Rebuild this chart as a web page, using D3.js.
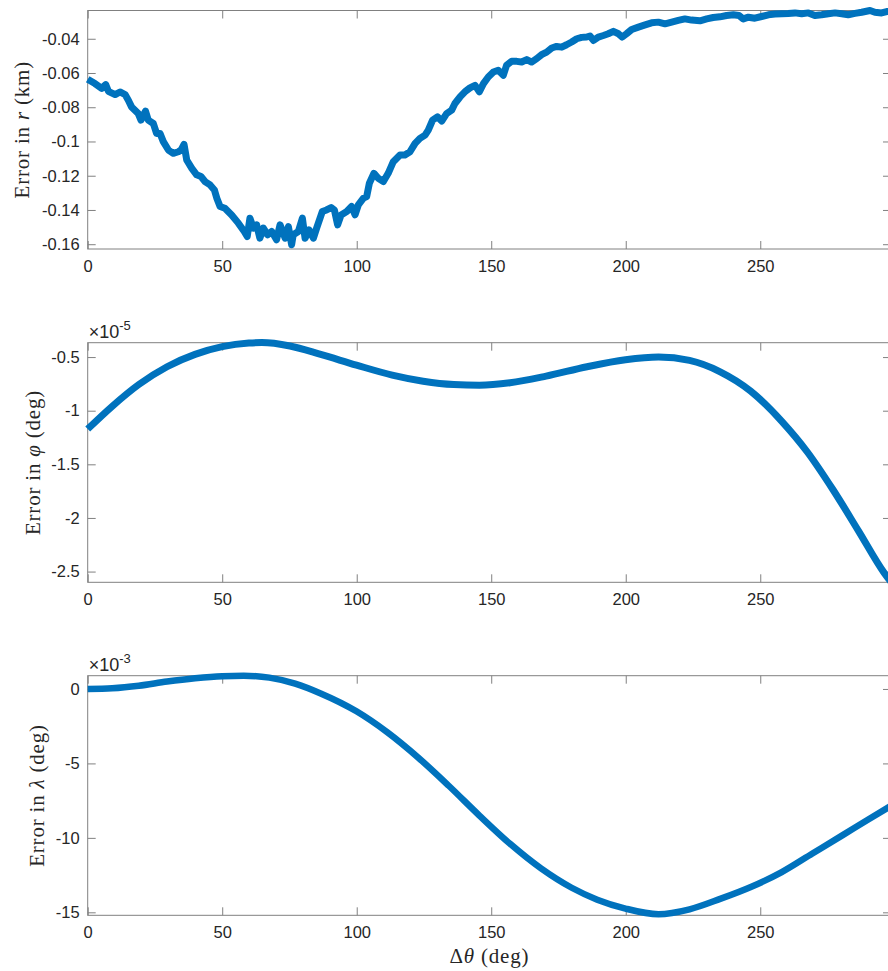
<!DOCTYPE html>
<html>
<head>
<meta charset="utf-8">
<script src="https://cdn.jsdelivr.net/npm/d3@7"></script>
<style>
  body { margin: 0; background: #fff; }
  svg { display: block; background: #fff; }
  .tick text { font-family: "Liberation Sans", Arial, sans-serif; font-size: 16.5px; fill: #262626; }
  .tick line { stroke: #808080; stroke-width: 1; }
  .lbl { font-family: "Liberation Serif", "Times New Roman", serif; font-size: 21px; fill: #262626; letter-spacing: 0.8px; }
  .expo { font-family: "Liberation Sans", Arial, sans-serif; font-size: 18px; fill: #262626; }
</style>
</head>
<body>
<svg id="chart" width="888" height="971"></svg>
<script>
// Shared x axis: along-track angle (deg)
const thetaTicks = [0, 50, 100, 150, 200, 250];

// Radial error (km), sampled along the arc
const thetaR = [0,2.7,5.2,6.7,7.7,10.2,12,13.9,15.1,16.3,18.8,19.8,21.5,22.5,24.4,25.6,26.9,28.1,30,31.8,33.7,34.7,35.8,36.8,38.7,40.5,42.1,43.6,45.5,47.1,48,49.2,51,53.5,56,58.2,59.3,60.3,61.6,62.8,64,65.3,66.9,68.4,70.2,71.5,73.4,74.6,75.8,76.4,78.3,79.8,80.8,82.3,83.9,85.1,87.2,88.8,90.5,91.7,92.9,94.2,96.3,98.1,99.4,100.6,102.5,103.7,104.7,106.4,108,109.9,111.7,113.6,116.1,117.9,119.8,121.7,123.5,125.4,126.6,128.2,130,131.6,133.4,135.3,136.5,138.4,140.2,142.1,144,145.6,147.1,148.9,150.8,152.6,154.5,155.7,157.6,159.5,161.3,163.2,165,166.9,168.7,170.6,172.5,174.3,176.2,178,179.9,181.8,183.6,185.5,186.7,188,189.8,191.7,193.5,195.4,197.3,198.7,200.3,202.2,204.7,207.2,209.6,212.1,214.6,217.1,219.5,222,224.5,227.6,230.1,232.5,235,237.5,240,242.1,243.7,245.6,248,250.5,253,255.5,258,260.4,262.9,265.4,267.9,270.3,272.8,275.3,277.8,280.3,282.7,285.2,287.7,290.8,292.6,295.1,297,298.6];
const errR = [-0.0637,-0.0662,-0.069,-0.0668,-0.0707,-0.0726,-0.0711,-0.0726,-0.0759,-0.0798,-0.0837,-0.0875,-0.0823,-0.0875,-0.0895,-0.0953,-0.0953,-0.1001,-0.105,-0.1069,-0.106,-0.105,-0.1017,-0.1108,-0.1157,-0.1195,-0.1205,-0.1234,-0.1254,-0.1283,-0.1331,-0.138,-0.139,-0.1429,-0.1477,-0.1526,-0.1555,-0.1448,-0.1506,-0.1487,-0.1565,-0.1506,-0.1545,-0.1526,-0.1574,-0.1487,-0.1565,-0.1497,-0.1603,-0.1545,-0.1526,-0.1448,-0.1565,-0.1516,-0.1565,-0.1506,-0.1409,-0.14,-0.1386,-0.14,-0.1487,-0.1429,-0.1409,-0.138,-0.1428,-0.137,-0.1331,-0.1322,-0.1244,-0.1186,-0.1215,-0.1234,-0.1186,-0.1118,-0.1079,-0.1079,-0.106,-0.1011,-0.0982,-0.0963,-0.0934,-0.0875,-0.0856,-0.0881,-0.0837,-0.0817,-0.0778,-0.074,-0.071,-0.0687,-0.0672,-0.071,-0.0662,-0.0623,-0.0594,-0.0584,-0.0613,-0.0555,-0.0532,-0.0532,-0.0536,-0.0522,-0.0536,-0.0516,-0.0493,-0.0478,-0.0454,-0.0445,-0.0449,-0.0435,-0.0419,-0.04,-0.0392,-0.039,-0.0384,-0.041,-0.039,-0.0381,-0.0371,-0.0357,-0.0371,-0.039,-0.0371,-0.0346,-0.0332,-0.0319,-0.0307,-0.0303,-0.0313,-0.0303,-0.0293,-0.0284,-0.0291,-0.0295,-0.0284,-0.0276,-0.0272,-0.0264,-0.026,-0.0264,-0.0284,-0.0274,-0.028,-0.027,-0.026,-0.0256,-0.0254,-0.0252,-0.0249,-0.0254,-0.0249,-0.0264,-0.026,-0.0254,-0.0249,-0.0254,-0.026,-0.0252,-0.0245,-0.0235,-0.0245,-0.0249,-0.0241,-0.024];
const rTicks = [-0.16, -0.14, -0.12, -0.1, -0.08, -0.06, -0.04];

// Latitude error, in units of 1e-5 deg
const thetaPhi = [0,9.1,19,29.5,39.9,50,59.9,64.7,75.2,86.6,99.9,113.2,124.7,136.1,145.6,157,170.4,185.6,199.9,212.2,223.7,235.1,246.5,258,267.5,277,286.5,296,298.6];
const errPhi = [-1.171,-0.959,-0.756,-0.590,-0.475,-0.403,-0.369,-0.365,-0.397,-0.475,-0.575,-0.668,-0.725,-0.756,-0.762,-0.740,-0.678,-0.590,-0.525,-0.500,-0.531,-0.637,-0.818,-1.099,-1.385,-1.735,-2.120,-2.510,-2.597];
const phiTicks = [-2.5, -2, -1.5, -1, -0.5];

// Longitude error, in units of 1e-3 deg
const thetaLam = [0,9.1,19,29.5,39.9,50,58,67.5,77.1,86.6,99.9,111.3,122.8,134.2,145.6,157,168.5,179.9,189.4,199.9,212.2,223.7,235.1,246.5,258,269.4,280.8,290.3,298.6];
const errLam = [0,0.05,0.22,0.5,0.72,0.86,0.89,0.76,0.36,-0.3,-1.5,-2.9,-4.6,-6.5,-8.5,-10.4,-12.05,-13.35,-14.15,-14.75,-15.13,-14.8,-14.1,-13.3,-12.3,-11.05,-9.8,-8.75,-7.85];
const lamTicks = [-15, -10, -5, 0];

const LINE_COLOR = "#0072BD";
const AXIS_COLOR = "#808080";

const svg = d3.select("#chart");
const X0 = 87.7, X1 = 891;
const x = d3.scaleLinear().domain([0, 298.6]).range([X0, X1]);
const fmt = d => String(+d.toFixed(4));

const panels = [
  { top: 10.5, bottom: 249, domain: [-0.1628, -0.0235], th: thetaR, val: errR, ticks: rTicks,
    width: 7, curve: d3.curveLinear, labelX: 29, sym: "r", unit: " (km)", expo: null },
  { top: 342.7, bottom: 582.3, domain: [-2.600, -0.366], th: thetaPhi, val: errPhi, ticks: phiTicks,
    width: 7, curve: d3.curveMonotoneX, labelX: 40, sym: "φ", unit: " (deg)", expo: "-5" },
  { top: 675.7, bottom: 915.3, domain: [-15.20, 0.89], th: thetaLam, val: errLam, ticks: lamTicks,
    width: 6.5, curve: d3.curveMonotoneX, labelX: 44, sym: "λ", unit: " (deg)", expo: "-3" }
];

panels.forEach(p => {
  const y = d3.scaleLinear().domain(p.domain).range([p.bottom, p.top]);
  const g = svg.append("g");

  // axes box
  g.append("rect")
    .attr("x", X0).attr("y", p.top)
    .attr("width", X1 - X0).attr("height", p.bottom - p.top)
    .attr("fill", "none").attr("stroke", AXIS_COLOR).attr("stroke-width", 1);

  // left ticks with labels
  g.append("g").attr("transform", `translate(${X0},0)`)
    .call(d3.axisLeft(y).tickValues(p.ticks).tickFormat(fmt).tickSizeInner(-8).tickSizeOuter(0).tickPadding(8))
    .call(a => a.select(".domain").remove());
  // right ticks
  g.append("g").attr("transform", `translate(${X1},0)`)
    .call(d3.axisRight(y).tickValues(p.ticks).tickFormat("").tickSizeInner(-8).tickSizeOuter(0))
    .call(a => a.select(".domain").remove());
  // bottom ticks with labels
  g.append("g").attr("transform", `translate(0,${p.bottom})`)
    .call(d3.axisBottom(x).tickValues(thetaTicks).tickFormat(fmt).tickSizeInner(-8).tickSizeOuter(0).tickPadding(11))
    .call(a => a.select(".domain").remove());
  // top ticks
  g.append("g").attr("transform", `translate(0,${p.top})`)
    .call(d3.axisTop(x).tickValues(thetaTicks).tickFormat("").tickSizeInner(-8).tickSizeOuter(0))
    .call(a => a.select(".domain").remove());

  // data line
  const line = d3.line()
    .x((d, i) => x(p.th[i]))
    .y(d => y(d))
    .curve(p.curve);
  g.append("path")
    .datum(p.val)
    .attr("d", line)
    .attr("fill", "none")
    .attr("stroke", LINE_COLOR)
    .attr("stroke-width", p.width)
    .attr("stroke-linejoin", "round")
    .attr("stroke-linecap", "butt");

  // y label
  const cy = (p.top + p.bottom) / 2;
  const t = g.append("text").attr("class", "lbl")
    .attr("text-anchor", "middle")
    .attr("transform", `translate(${p.labelX},${cy}) rotate(-90)`);
  t.append("tspan").text("Error in ");
  t.append("tspan").attr("font-style", "italic").text(p.sym);
  t.append("tspan").text(p.unit);

  // exponent multiplier
  if (p.expo) {
    const e = g.append("text").attr("class", "expo")
      .attr("x", X0 + 1).attr("y", p.top - 4.5);
    e.append("tspan").attr("font-weight", 300).text("×");
    e.append("tspan").text("10");
    e.append("tspan").attr("dy", -8).attr("font-size", "13px").text(p.expo);
  }
});

// x label
const xl = svg.append("text").attr("class", "lbl")
  .attr("text-anchor", "middle")
  .attr("x", (X0 + X1) / 2).attr("y", 963);
xl.append("tspan").text("Δ");
xl.append("tspan").attr("font-style", "italic").text("θ");
xl.append("tspan").text(" (deg)");
</script>
</body>
</html>
